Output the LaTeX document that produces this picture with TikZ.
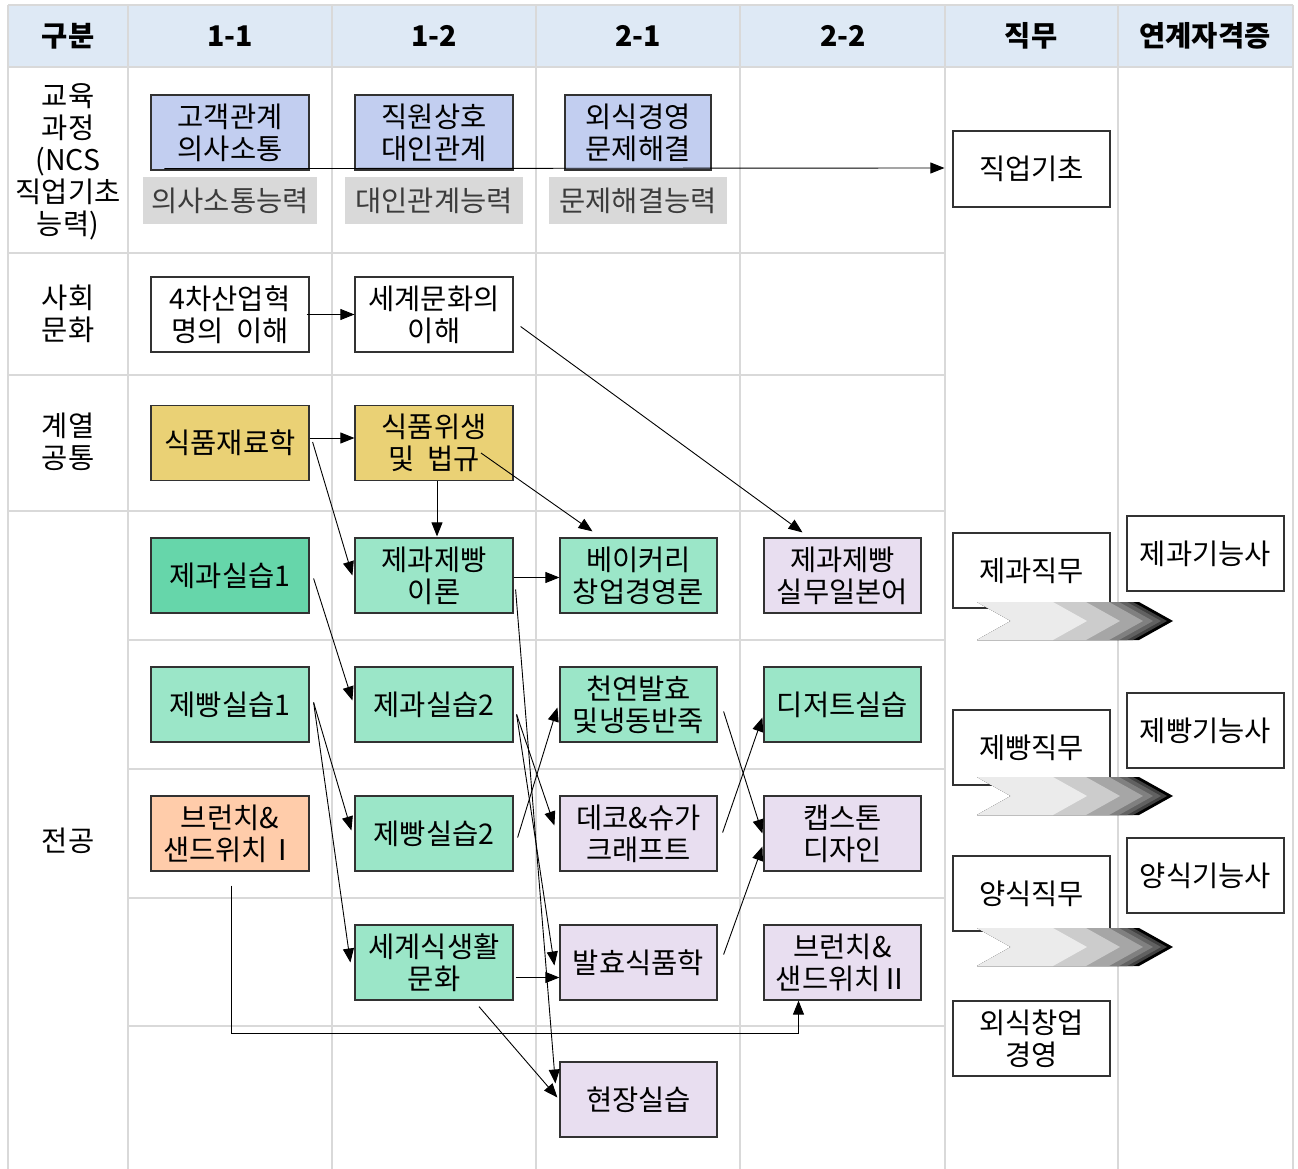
\documentclass[tikz,border=0pt]{standalone}
\usepackage{fontspec}
\setmainfont{Noto Sans CJK KR}
\usetikzlibrary{calc,arrows.meta}
\definecolor{hdr}{RGB}{222,233,245}
\definecolor{gridc}{RGB}{217,217,217}
\definecolor{boxline}{RGB}{50,50,50}
\definecolor{cblue}{RGB}{194,206,240}
\definecolor{cgold}{RGB}{234,209,117}
\definecolor{cdgreen}{RGB}{102,214,170}
\definecolor{cgreen}{RGB}{155,230,200}
\definecolor{clav}{RGB}{232,222,240}
\definecolor{cpeach}{RGB}{255,204,170}
\definecolor{cgray}{RGB}{217,217,217}
\definecolor{gtext}{RGB}{60,60,60}
\newcommand\fs{\fontsize{28.5pt}{32pt}\selectfont}
\newcommand\fsl{\fontsize{28.5pt}{32pt}\selectfont}
\begin{document}
\begin{tikzpicture}[x=1pt,y=-1pt,
  gridline/.style={draw=gridc,line width=1.5pt},
  box/.style={draw=boxline,line width=1.2pt,minimum width=158pt,minimum height=75pt,inner sep=0pt,align=center,font=\fs},
  wbox/.style={box,fill=white},
  bluebox/.style={box,fill=cblue},
  goldbox/.style={box,fill=cgold},
  dgbox/.style={box,fill=cdgreen},
  gbox/.style={box,fill=cgreen},
  lavbox/.style={box,fill=clav},
  peachbox/.style={box,fill=cpeach},
  graylbl/.style={fill=cgray,minimum width=176pt,minimum height=47pt,inner sep=0pt,font=\fs,text=gtext},
  hdrtxt/.style={font=\fsl\bfseries,inner sep=0pt},
  rowlbl/.style={font=\fsl,align=center,inner sep=0pt},
  arr/.style={draw=black,line width=0.9pt,-{Triangle[length=14pt,width=11pt]}}
]
\useasboundingbox (0,0) rectangle (1298,1169);
% header band
\fill[hdr] (8,5) rectangle (1293,67);
% grid
\foreach \x in {8,128,332,536,740,945,1118,1293} \draw[gridline] (\x,5) -- (\x,1169);
\draw[gridline] (8,5) -- (1293,5);
\draw[gridline] (8,67) -- (1293,67);
\foreach \y in {253,375,511} \draw[gridline] (8,\y) -- (945,\y);
\foreach \y in {640,769,898,1026} \draw[gridline] (128,\y) -- (945,\y);
% header texts
\node[hdrtxt] (h0) at (68,36) {구분};
\node[hdrtxt] (h1) at (230,36) {1-1};
\node[hdrtxt] (h2) at (434,36) {1-2};
\node[hdrtxt] (h3) at (638,36) {2-1};
\node[hdrtxt] (h4) at (843,36) {2-2};
\node[hdrtxt] (h5) at (1031,36) {직무};
\node[hdrtxt] (h6) at (1205,36) {연계자격증};
% row labels
\node[rowlbl] (r1) at (68,162) {교육\\과정\\(NCS\\직업기초\\능력)};
\node[rowlbl] (r2) at (68,314) {사회\\문화};
\node[rowlbl] (r3) at (68,442) {계열\\공통};
\node[rowlbl] (r4) at (68,841) {전공};
% gray labels
\node[graylbl,minimum width=174pt] (g1) at (230,201) {의사소통능력};
\node[graylbl,minimum width=178pt] (g2) at (434,201) {대인관계능력};
\node[graylbl,minimum width=178pt] (g3) at (638,201) {문제해결능력};
% blue boxes
\node[bluebox] (ko1) at (230,132.5) {고객관계\\의사소통};
\node[bluebox] (ko2) at (434,132.5) {직원상호\\대인관계};
\node[bluebox,minimum width=146pt] (ko3) at (638,132.5) {외식경영\\문제해결};
% society
\node[wbox] (soc1) at (230,314.5) {4차산업혁\\명의~ 이해};
\node[wbox] (soc2) at (434,314.5) {세계문화의\\이해};
% common
\node[goldbox] (mat) at (230,443) {식품재료학};
\node[goldbox] (hyg) at (434,443) {식품위생\\및~ 법규};
% major
\node[dgbox] (jk1) at (230,575.5) {제과실습1};
\node[gbox] (theory) at (434,575.5) {제과제빵\\이론};
\node[gbox,minimum width=157pt] (bak) at (638.5,575.5) {베이커리\\창업경영론};
\node[lavbox,minimum width=157pt] (jp) at (842.5,575.5) {제과제빵\\실무일본어};
\node[gbox] (jb1) at (230,704.5) {제빵실습1};
\node[gbox] (jk2) at (434,704.5) {제과실습2};
\node[gbox,minimum width=157pt] (nat) at (638.5,704.5) {천연발효\\및냉동반죽};
\node[gbox,minimum width=157pt] (des) at (842.5,704.5) {디저트실습};
\node[peachbox] (bru1) at (230,833.5) {브런치\&\\샌드위치Ⅰ};
\node[gbox] (jb2) at (434,833.5) {제빵실습2};
\node[lavbox,minimum width=157pt] (deco) at (638.5,833.5) {데코\&슈가\\크래프트};
\node[lavbox,minimum width=157pt] (cap) at (842.5,833.5) {캡스톤\\디자인};
\node[gbox] (wf) at (434,962.5) {세계식생활\\문화};
\node[lavbox,minimum width=157pt] (fer) at (638.5,962.5) {발효식품학};
\node[lavbox,minimum width=157pt] (bru2) at (842.5,962.5) {브런치\&\\샌드위치Ⅱ};
\node[lavbox,minimum width=157pt] (field) at (638.5,1099.5) {현장실습};
% right columns
\node[wbox,minimum width=157pt,minimum height=76pt] (job0) at (1031.5,169) {직업기초};
\node[wbox,minimum width=157pt] (job1) at (1031.5,570.5) {제과직무};
\node[wbox,minimum width=157pt] (job2) at (1031.5,747.5) {제빵직무};
\node[wbox,minimum width=157pt] (job3) at (1031.5,893.5) {양식직무};
\node[wbox,minimum width=157pt] (job4) at (1031.5,1038.5) {외식창업\\경영};
\node[wbox,minimum width=157pt] (cert1) at (1205.5,553.5) {제과기능사};
\node[wbox,minimum width=157pt] (cert2) at (1205.5,730.5) {제빵기능사};
\node[wbox,minimum width=157pt] (cert3) at (1205.5,875.5) {양식기능사};
% chevrons
\foreach \cy in {621,796,947} {
  \foreach \t/\c in {1173/black,1167/black!75,1161/black!62,1153/black!50,1143/black!35,1120/black!20,1087/black!8} {
    \fill[\c] (977,\cy-19) -- (\t-34,\cy-19) -- (\t,\cy) -- (\t-34,\cy+19) -- (977,\cy+19) -- (1011,\cy) -- cycle;
  }
}
% arrows
\draw[arr] ($(ko1.south west)+(14,-2)$) -- ($(job0.west)+(-8,-1)$);
\draw[arr] ($(soc1.east)+(-3,0)$) -- (soc2.west);
\draw[arr] ($(soc2.east)+(7,12)$) -- ($(jp.north)+(-40,-5)$);
\draw[arr] ($(mat.east)+(0,-5)$) -- ($(hyg.west)+(0,-5)$);
\draw[arr] ($(mat.east)+(3,-1)$) -- ($(theory.west)+(-2,0)$);
\draw[arr] ($(hyg.south)+(3,0)$) -- ($(theory.north)+(3,-1)$);
\draw[arr] ($(hyg.center)+(47,10)$) -- ($(bak.north)+(-46,-6)$);
\draw[arr] ($(theory.east)+(0,2)$) -- ($(bak.west)+(0,2)$);
\draw[arr] ($(jk1.east)+(4,3)$) -- ($(jk2.west)+(-2,-4)$);
\draw[arr] ($(jb1.east)+(4,-2)$) -- ($(jb2.west)+(-3,-3)$);
\draw[arr] ($(jb1.east)+(4,-2)$) -- ($(wf.west)+(-4,0)$);
\draw[arr] ($(theory.east)+(2,14)$) -- ($(field.west)+(-4,-16)$);
\draw[arr] ($(jk2.east)+(3,10)$) -- ($(fer.west)+(-5,3)$);
\draw[arr] ($(jk2.east)+(3,10)$) -- ($(deco.west)+(-5,-8)$);
\draw[arr] ($(jb2.east)+(4,4)$) -- ($(nat.west)+(-2,3)$);
\draw[arr] ($(nat.east)+(6,7)$) -- ($(cap.west)+(-1,0)$);
\draw[arr] ($(deco.east)+(5,-1)$) -- ($(des.west)+(-1,13)$);
\draw[arr] ($(fer.east)+(6,-8)$) -- ($(cap.west)+(-1,13)$);
\draw[arr] ($(wf.east)+(2,15)$) -- ($(fer.west)+(0,15)$);
\draw[arr] ($(wf.south)+(45,6)$) -- ($(field.west)+(-2,-2)$);
\draw[arr] ($(bru1.south)+(1,14)$) |- ($(bru2.south)+(-44,33)$) -- ($(bru2.south)+(-44,0)$);
\end{tikzpicture}
\end{document}
